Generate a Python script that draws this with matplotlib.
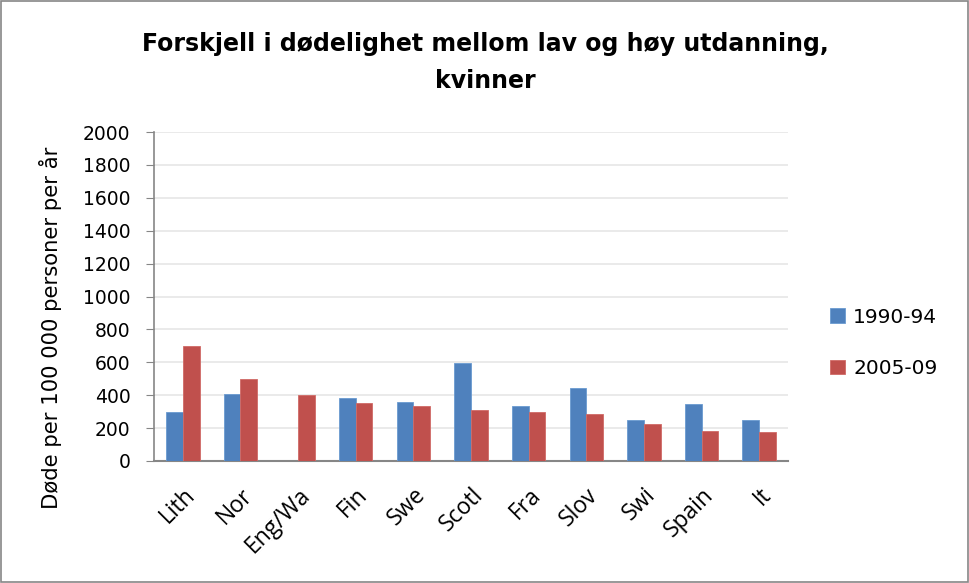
import matplotlib
matplotlib.use("Agg")
import matplotlib.pyplot as plt
import numpy as np

categories = ["Lith", "Nor", "Eng/Wa", "Fin", "Swe", "Scotl", "Fra", "Slov", "Swi", "Spain", "It"]
s1990 = [300, 410, np.nan, 385, 360, 595, 335, 445, 250, 345, 250]
s2005 = [700, 500, 400, 350, 335, 310, 300, 285, 225, 185, 175]
series_names = ["1990-94", "2005-09"]
yticks = [0, 200, 400, 600, 800, 1000, 1200, 1400, 1600, 1800, 2000]

plt.rcParams['font.family'] = ['Open Sans', 'DejaVu Sans']

fig = plt.figure(figsize=(9.70, 5.83), dpi=100)
ax = fig.add_axes([154/970, 1 - 461/583, (788-154)/970, (461-132)/583])

x = np.arange(len(categories))
w = 0.29
blue = "#4F81BD"
red = "#C0504D"
ax.bar(x - w/2, s1990, w, color=blue, edgecolor="#6a9ad0", linewidth=0.6, label=series_names[0], zorder=3)
ax.bar(x + w/2, s2005, w, color=red, edgecolor="#d06a66", linewidth=0.6, label=series_names[1], zorder=3)

ax.set_xlim(-0.5, len(categories) - 0.5)
ax.set_ylim(0, 2000)
ax.set_yticks(yticks)
ax.set_yticklabels([str(t) for t in yticks], fontsize=13.5, family=['DejaVu Sans'])
ax.set_xticks(x)
ax.set_xticklabels(categories, rotation=45, ha="right", rotation_mode="anchor", fontsize=16.5)
ax.tick_params(axis="x", length=0, pad=16)
ax.tick_params(axis="y", length=6, color="#868686", pad=11)

ax.grid(axis="y", color="#e6e6e6", linewidth=1.2, zorder=0)
for s in ["top", "right"]:
    ax.spines[s].set_visible(False)
ax.spines["left"].set_color("#868686")
ax.spines["bottom"].set_color("#868686")
ax.spines["left"].set_linewidth(1.2)
ax.spines["bottom"].set_linewidth(1.5)

ax.set_ylabel("Døde per 100 000 personer per år", fontsize=15.2, family=['DejaVu Sans'])
ax.yaxis.set_label_coords(-0.145, 0.404)

fig.text(0.5, 1 - 44/583, "Forskjell i dødelighet mellom lav og høy utdanning,", ha="center", va="center",
         fontsize=17, fontweight="bold", family=['DejaVu Sans'])
fig.text(0.5, 1 - 81/583, "kvinner", ha="center", va="center", fontsize=17, fontweight="bold",
         family=['DejaVu Sans'])

ax.legend(loc="center left", bbox_to_anchor=(812/970, 1 - 343/583), bbox_transform=fig.transFigure,
          frameon=False, handlelength=0.75, handleheight=0.75, labelspacing=1.6,
          handletextpad=0.4, prop={'family': ['DejaVu Sans'], 'size': 14.5})

border = plt.Rectangle((0.001, 0.001), 0.997, 0.997, transform=fig.transFigure, fill=False,
                       edgecolor="#868686", linewidth=1.2)
fig.patches.append(border)

fig.savefig("out.png", dpi=100, facecolor="white")
